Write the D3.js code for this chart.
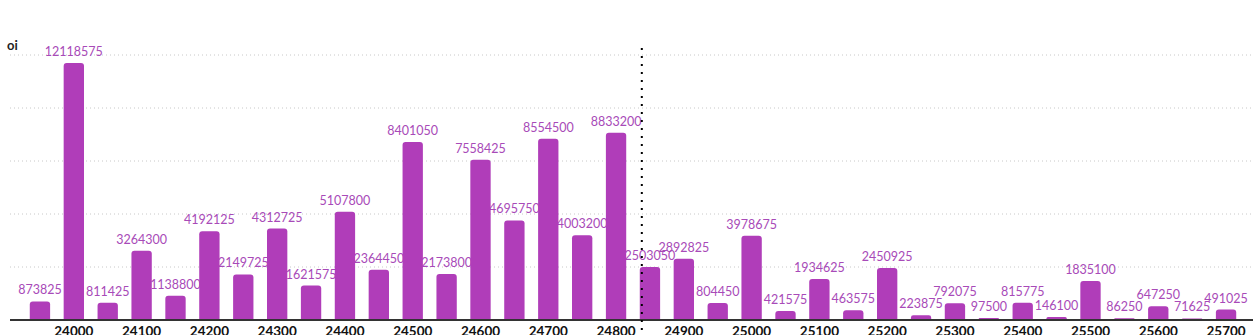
<!DOCTYPE html>
<html><head><meta charset="utf-8">
<script src="https://cdn.jsdelivr.net/npm/d3@7"></script>
<style>
html,body{margin:0;padding:0;background:#fff;}
svg{display:block;}
</style></head>
<body>
<svg id="chart" width="1259" height="335"></svg>
<script>
const strikes = [23950,24000,24050,24100,24150,24200,24250,24300,24350,24400,24450,24500,24550,24600,24650,24700,24750,24800,24850,24900,24950,25000,25050,25100,25150,25200,25250,25300,25350,25400,25450,25500,25550,25600,25650,25700];
const oiValues = [873825,12118575,811425,3264300,1138800,4192125,2149725,4312725,1621575,5107800,2364450,8401050,2173800,7558425,4695750,8554500,4003200,8833200,2503050,2892825,804450,3978675,421575,1934625,463575,2450925,223875,792075,97500,815775,146100,1835100,86250,647250,71625,491025];
const tickStrikes = [24000,24100,24200,24300,24400,24500,24600,24700,24800,24900,25000,25100,25200,25300,25400,25500,25600,25700];
const gridValues = [2500000,5000000,7500000,10000000,12500000];
const spotPrice = 24838;
const yTitle = "oi";

const svg = d3.select("#chart");
const baseY = 320, topY = 55;
const x = d3.scaleBand().domain(strikes).range([23, 1243]).paddingInner(0.4).paddingOuter(0.2);
const y = d3.scaleLinear().domain([0, 12500000]).range([baseY, topY]);
const barColor = "#b03db9";
const labelColor = "#a84ab8";

// gridlines
svg.append("g").selectAll("line").data(gridValues).join("line")
  .attr("x1", 10).attr("x2", 1253)
  .attr("y1", d => y(d)).attr("y2", d => y(d))
  .attr("stroke", "#c8c8c8").attr("stroke-width", 1).attr("stroke-dasharray", "1,3");

// y title
svg.append("text").attr("x", 7).attr("y", 50).text(yTitle)
  .attr("font-family", "Lato, sans-serif").attr("font-weight", "bold").attr("font-size", 13).attr("fill", "#222");

// labels (drawn under bars)
const cx = d => x(d) + x.bandwidth() / 2;
svg.append("g").selectAll("text").data(strikes).join("text")
  .attr("x", d => cx(d))
  .attr("y", (d, i) => y(oiValues[i]) - 7)
  .attr("text-anchor", "middle")
  .attr("font-family", "Lato, sans-serif").attr("font-size", 12.5)
  .attr("fill", labelColor)
  .text((d, i) => oiValues[i]);

// bars with rounded top
const r = 3;
svg.append("g").selectAll("path").data(strikes).join("path")
  .attr("fill", barColor)
  .attr("d", (d, i) => {
    const x0 = x(d), w = x.bandwidth(), yt = y(oiValues[i]), h = baseY - yt;
    const rr = Math.min(r, h / 2, w / 2);
    return `M${x0},${baseY}V${yt + rr}Q${x0},${yt} ${x0 + rr},${yt}H${x0 + w - rr}Q${x0 + w},${yt} ${x0 + w},${yt + rr}V${baseY}Z`;
  });

// x axis
const xAxis = d3.axisBottom(x).tickValues(tickStrikes).tickSize(0).tickPadding(6);
const gx = svg.append("g").attr("transform", `translate(0,${baseY})`).call(xAxis);
gx.select(".domain").remove();
gx.selectAll("text").attr("font-family", "Lato, sans-serif").attr("font-weight", "bold").attr("font-size", 13.5).attr("fill", "#111");
svg.append("line").attr("x1", 10).attr("x2", 1253).attr("y1", baseY).attr("y2", baseY)
  .attr("stroke", "#333").attr("stroke-width", 2);

// spot line
const idx = d3.bisectRight(strikes, spotPrice) - 1;
const spotX = cx(strikes[idx]) + (spotPrice - strikes[idx]) / (strikes[idx + 1] - strikes[idx]) * x.step();
svg.append("line").attr("x1", spotX).attr("x2", spotX).attr("y1", 48).attr("y2", 335)
  .attr("stroke", "#000").attr("stroke-width", 2).attr("stroke-dasharray", "2,6");
</script>
</body></html>
